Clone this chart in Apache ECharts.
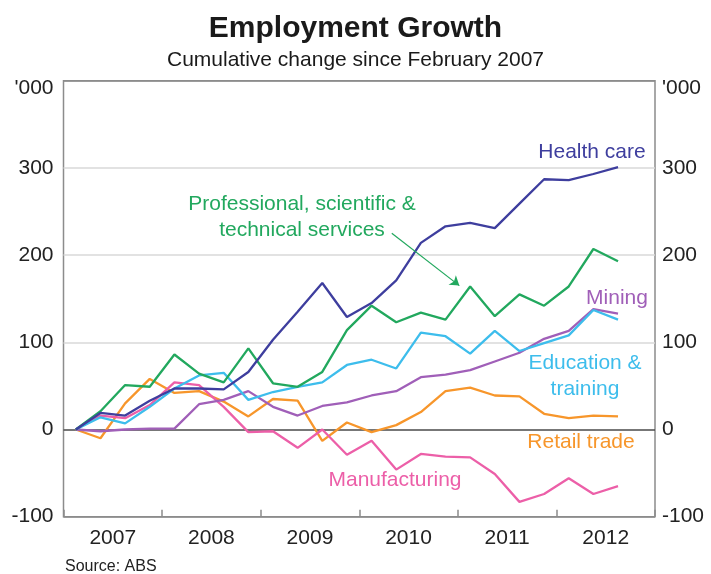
<!DOCTYPE html>
<html><head><meta charset="utf-8">
<script src="https://cdn.jsdelivr.net/npm/echarts@6/dist/echarts.min.js"></script>
<style>html,body{margin:0;padding:0;background:#fff}#c{width:711px;height:574px}</style>
</head><body><div id="c"></div>
<script>
// Quarterly observations, Feb 2007 .. Aug 2012 ('000, cumulative change since Feb 2007)
const years = ['2007','2008','2009','2010','2011','2012'];
const healthCare   = [0,19,16,33,47,47,46,66,103,135,168,129,145,171,214,233,237,231,259,287,286,293,301];
const professional = [0,21,51,49,86,64,54,93,53,49,66,114,142,123,134,126,164,130,155,142,164,207,193];
const education    = [0,14,7,26,47,62,65,34,43,49,54,74,80,70,111,107,87,113,90,99,108,137,126];
const mining       = [0,-2,0,1,1,29,34,44,26,16,27,31,39,44,60,63,68,78,88,104,113,138,133];
const retail       = [0,-10,30,58,42,44,32,15,35,33,-13,8,-3,5,20,44,48,39,38,18,13,16,15];
const manufacturing= [0,16,13,28,54,51,26,-3,-2,-21,0,-29,-13,-46,-28,-31,-32,-51,-83,-74,-56,-74,-65];

const FONT = 'Liberation Sans, Arial, sans-serif';
const FS = 21;
const toXY = arr => arr.map((v, i) => [i + 0.5, v]);

const C = {
  health: '#3e3e9e', prof: '#22a85e', edu: '#3dbdec',
  mining: '#a05fb8', retail: '#f7962b', manuf: '#ec5fa8'
};

function line(name, data, color, extra) {
  return Object.assign({
    name, type: 'line', xAxisIndex: 0, yAxisIndex: 0,
    data: toXY(data), symbol: 'none', smooth: false,
    lineStyle: { color, width: 2.3 }, itemStyle: { color }, z: 3
  }, extra || {});
}

const yLabelFmt = v => v === 400 ? "{u|'000}" : String(v);
const yLabel = {
  fontSize: FS, color: '#222', fontFamily: FONT, formatter: yLabelFmt,
  rich: { u: { fontSize: FS, color: '#222', fontFamily: FONT, padding: [16, 0, 0, 0] } }
};

const chart = echarts.init(document.getElementById('c'), null, { renderer: 'canvas' });
chart.setOption({
  animation: false,
  backgroundColor: '#fff',
  title: {
    text: 'Employment Growth',
    subtext: 'Cumulative change since February 2007',
    left: 'center', top: 9, itemGap: 6,
    textStyle: { fontSize: 30, fontWeight: 'bold', color: '#1a1a1a', fontFamily: FONT },
    subtextStyle: { fontSize: FS, color: '#1a1a1a', fontFamily: FONT }
  },
  grid: {
    left: 63.5, right: 56, top: 80.7, bottom: 57.3,
    show: true, borderColor: '#8c8c8c', borderWidth: 1.5, backgroundColor: 'transparent'
  },
  xAxis: [
    { type: 'value', min: 0, max: 24, show: false },
    { type: 'category', data: years, position: 'bottom', boundaryGap: true,
      axisLine: { show: false, onZero: false },
      axisTick: { show: true, inside: true, length: 7, lineStyle: { color: '#8c8c8c', width: 1.5 } },
      axisLabel: { fontSize: FS, color: '#222', fontFamily: FONT, margin: 11 },
      splitLine: { show: false } }
  ],
  yAxis: [
    { type: 'value', position: 'left', min: -100, max: 400, interval: 100,
      axisLine: { show: false }, axisTick: { show: false },
      axisLabel: Object.assign({ margin: 10 }, yLabel),
      splitLine: { show: true, lineStyle: { width: 1.5,
        color: ['#8c8c8c', '#4a4a4a', '#d9d9d9', '#d9d9d9', '#d9d9d9', '#8c8c8c'] } } },
    { type: 'value', position: 'right', min: -100, max: 400, interval: 100,
      axisLine: { show: false }, axisTick: { show: false },
      axisLabel: Object.assign({ margin: 7 }, yLabel),
      splitLine: { show: false } }
  ],
  series: [
    line('Retail trade', retail, C.retail),
    line('Manufacturing', manufacturing, C.manuf),
    line('Mining', mining, C.mining),
    line('Education & training', education, C.edu),
    line('Professional, scientific & technical services', professional, C.prof, {
      markLine: {
        silent: true, symbol: ['none', 'arrow'], symbolSize: 9,
        label: { show: false },
        lineStyle: { color: C.prof, width: 1.2, type: 'solid' },
        data: [[{ coord: [13.32, 225] }, { coord: [16.06, 165] }]]
      }
    }),
    line('Health care', healthCare, C.health)
  ],
  graphic: [
    { type: 'text', x: 592, y: 152, style: { text: 'Health care', fill: C.health, font: FS + 'px ' + FONT, textAlign: 'center', textVerticalAlign: 'middle' } },
    { type: 'text', x: 302, y: 204, style: { text: 'Professional, scientific &', fill: C.prof, font: FS + 'px ' + FONT, textAlign: 'center', textVerticalAlign: 'middle' } },
    { type: 'text', x: 302, y: 230, style: { text: 'technical services', fill: C.prof, font: FS + 'px ' + FONT, textAlign: 'center', textVerticalAlign: 'middle' } },
    { type: 'text', x: 617, y: 298, style: { text: 'Mining', fill: C.mining, font: FS + 'px ' + FONT, textAlign: 'center', textVerticalAlign: 'middle' } },
    { type: 'text', x: 585, y: 363, style: { text: 'Education &', fill: C.edu, font: FS + 'px ' + FONT, textAlign: 'center', textVerticalAlign: 'middle' } },
    { type: 'text', x: 585, y: 389, style: { text: 'training', fill: C.edu, font: FS + 'px ' + FONT, textAlign: 'center', textVerticalAlign: 'middle' } },
    { type: 'text', x: 581, y: 442, style: { text: 'Retail trade', fill: C.retail, font: FS + 'px ' + FONT, textAlign: 'center', textVerticalAlign: 'middle' } },
    { type: 'text', x: 395, y: 480, style: { text: 'Manufacturing', fill: C.manuf, font: FS + 'px ' + FONT, textAlign: 'center', textVerticalAlign: 'middle' } },
    { type: 'text', x: 65, y: 567, style: { text: 'Source: ABS', fill: '#222', font: '16px ' + FONT, textAlign: 'left', textVerticalAlign: 'middle' } }
  ]
});
</script>
</body></html>
